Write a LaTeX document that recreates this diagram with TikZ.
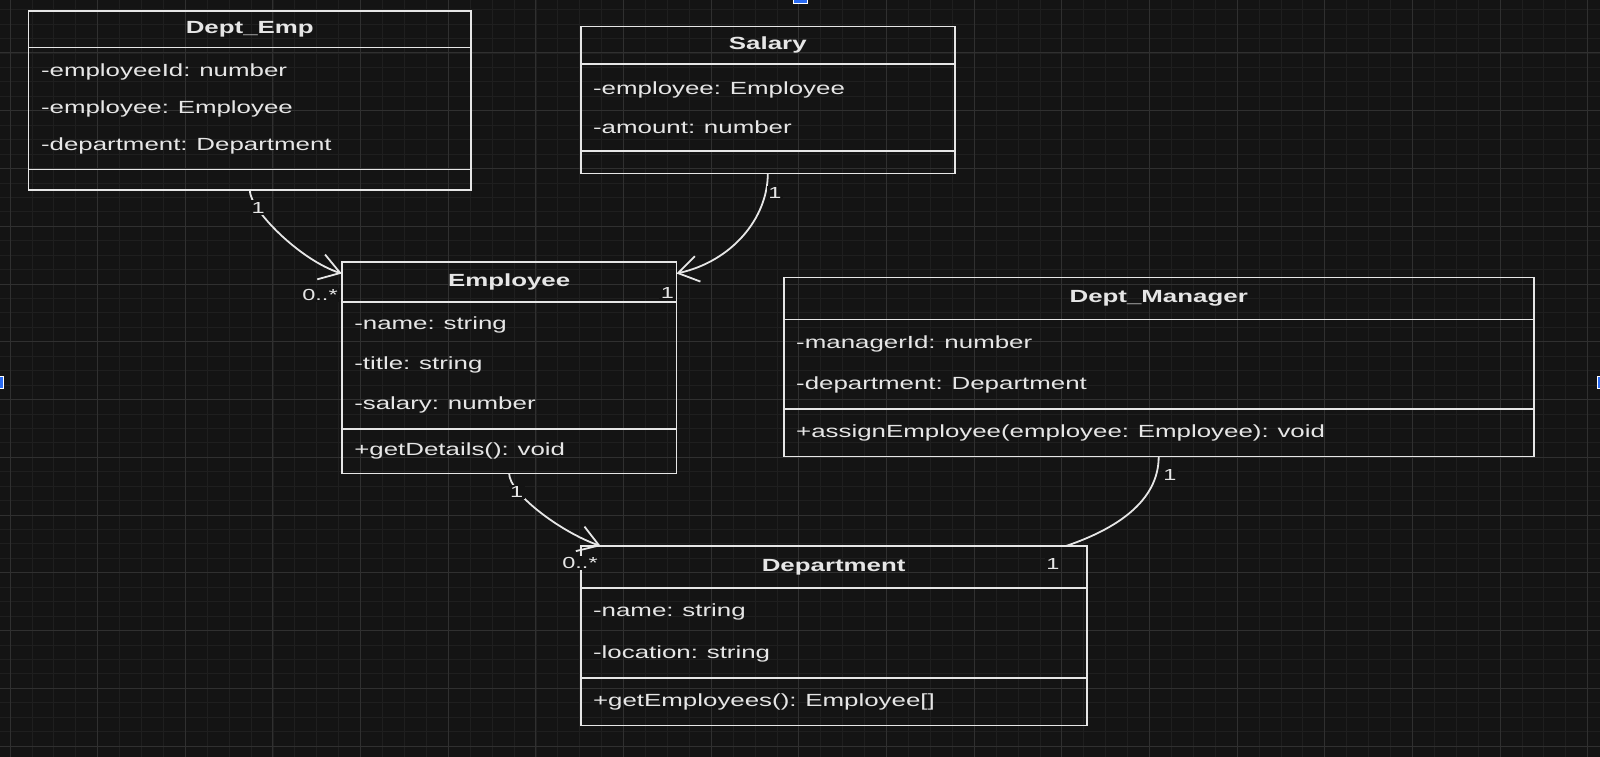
\documentclass[tikz,border=0pt]{standalone}
\usepackage{fontspec}
\setmainfont{Liberation Sans}[FakeStretch=1.47]
\usetikzlibrary{positioning,arrows.meta}
\definecolor{canvas}{HTML}{141414}
\definecolor{gridmaj}{HTML}{303030}
\definecolor{gridmin}{HTML}{1F1F1F}
\definecolor{ink}{HTML}{E6E6E6}
\definecolor{handle}{HTML}{2A6BF2}

\begin{document}
\begin{tikzpicture}[x=1pt,y=-1pt,
  box/.style={draw=ink, line width=1.8pt, inner xsep=12.5pt, inner ysep=0pt,
    outer sep=0pt, text=ink, font=\fontsize{17.6}{21}\selectfont},
  head/.style={box, align=center, font=\fontsize{17.6}{21}\selectfont\bfseries},
  attrs/.style={box, align=left, font=\fontsize{17.6}{#1}\selectfont},
  meths/.style={box, align=left},
  mult/.style={fill=canvas, text=ink, inner sep=1.5pt, font=\fontsize{16}{16}\selectfont},
  assoc/.style={draw=ink, line width=1.8pt},
  nav/.style={assoc, -{Straight Barb[length=20pt,width=26pt]}}]

  \fill[canvas] (0,0) rectangle (1600,757);
  \useasboundingbox (0,0) rectangle (1600,757);

  % grid
  \foreach \i in {-1,...,73}
    \draw[gridmin, line width=0.8pt] ({10+21.9125*\i},0) -- ++(0,757);
  \foreach \i in {-1,...,53}
    \draw[gridmin, line width=0.8pt] (0,{-4.75+14.4375*\i}) -- ++(1600,0);
  \foreach \i in {0,...,18}
    \draw[gridmaj, line width=1pt] ({10+87.65*\i},0) -- ++(0,757);
  \foreach \i in {0,...,13}
    \draw[gridmaj, line width=1pt] (0,{-4.75+57.75*\i}) -- ++(1600,0);

  % Dept_Emp
  \node[head, anchor=north west, text width=417.5pt, minimum height=36.8pt] (deH) at (28.5,10.7) {Dept\_Emp};
  \node[attrs=37pt, below=0pt of deH, text width=417.5pt, minimum height=122pt] (deA)
    {-employeeId: number\\-employee: Employee\\-department: Department};
  \node[meths, below=0pt of deA, text width=417.5pt, minimum height=20.5pt] (deM) {};

  % Salary
  \node[head, anchor=north west, text width=349.4pt, minimum height=37.8pt] (salH) at (580.6,26.5) {Salary};
  \node[attrs=38.7pt, below=0pt of salH, text width=349.4pt, minimum height=86.7pt] (salA)
    {-employee: Employee\\-amount: number};
  \node[meths, below=0pt of salA, text width=349.4pt, minimum height=22.5pt] (salM) {};

  % Employee
  \node[head, anchor=north west, text width=309.7pt, minimum height=39.7pt] (empH) at (341.8,262) {Employee};
  \node[attrs=40pt, below=0pt of empH, text width=309.7pt, minimum height=127.3pt] (empA)
    {-name: string\\-title: string\\-salary: number};
  \node[meths, below=0pt of empA, text width=309.7pt, minimum height=44.4pt] (empM) {+getDetails(): void};

  % Dept_Manager
  \node[head, anchor=north west, text width=725pt, minimum height=41.9pt] (mgrH) at (783.7,277.5) {Dept\_Manager};
  \node[attrs=41.4pt, below=0pt of mgrH, text width=725pt, minimum height=89.9pt] (mgrA)
    {-managerId: number\\-department: Department};
  \node[meths, below=0pt of mgrA, text width=725pt, minimum height=47.2pt] (mgrM)
    {+assignEmployee(employee: Employee): void};

  % Department
  \node[head, anchor=north west, text width=481.1pt, minimum height=41.8pt] (depH) at (580.6,546) {Department};
  \node[attrs=42pt, below=0pt of depH, text width=481.1pt, minimum height=89.8pt] (depA)
    {-name: string\\-location: string};
  \node[meths, below=0pt of depA, text width=481.1pt, minimum height=47.9pt] (depM)
    {+getEmployees(): Employee[]};

  % associations
  \draw[nav] (deM.south) .. controls +(0,20) and +(-41,-13) .. ([yshift=-11.5pt]empH.north west);
  \draw[nav] (salM.south) .. controls +(0,45) and +(55,-12) .. ([yshift=-11.5pt]empH.north east);
  \draw[nav] (empM.south) .. controls +(0,20) and +(-40,-14) .. ([xshift=20pt]depH.north west);
  \draw[assoc] (mgrM.south) .. controls +(0,45) and +(50,-17) .. ([xshift=-20.7pt]depH.north east);

  % multiplicities
  \node[mult] (deMul) at ([shift={(8.5,17.5)}]deM.south) {1};
  \node[mult] (empMulL) at ([shift={(-21.8,33)}]empH.north west) {0..*};
  \node[mult] (salMul) at ([shift={(7.2,19.8)}]salM.south) {1};
  \node[mult] (empMulR) at ([shift={(-9.2,31.3)}]empH.north east) {1};
  \node[mult] (empMulB) at ([shift={(7.5,18.3)}]empM.south) {1};
  \node[mult] (depMulL) at ([shift={(-0.6,17)}]depH.north west) {0..*};
  \node[mult] (mgrMul) at ([shift={(11.3,18.5)}]mgrM.south) {1};
  \node[mult] (depMulR) at ([shift={(-33.7,18)}]depH.north east) {1};

  % selection handles
  \filldraw[fill=handle, draw=white, line width=0.8pt] (793,-3) rectangle (807,3);
  \filldraw[fill=handle, draw=white, line width=0.8pt] (-3,376) rectangle (3,388);
  \filldraw[fill=handle, draw=white, line width=0.8pt] (1597,376) rectangle (1603,388);
\end{tikzpicture}
\end{document}
